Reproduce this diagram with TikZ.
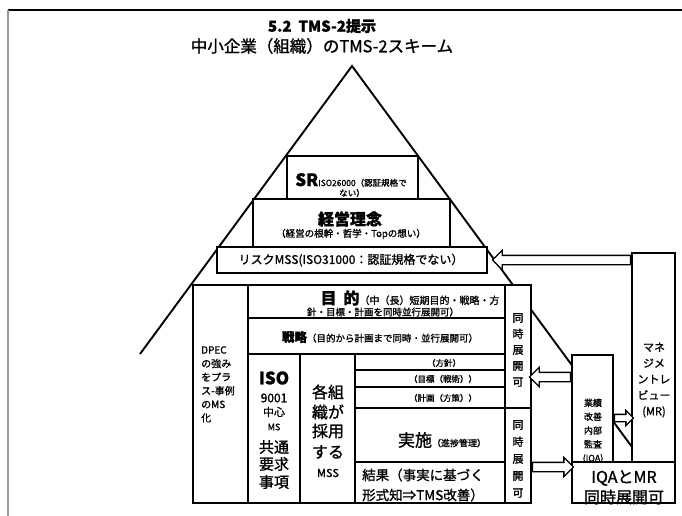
\documentclass[tikz,border=0pt]{standalone}
\usepackage{fontspec}
\setmainfont{Noto Sans CJK JP}
\newfontfamily\med{Noto Sans CJK JP}[FakeBold=1.2]
\usetikzlibrary{shapes.arrows}
\newcommand\fs[1]{\fontsize{#1}{#1}\selectfont}
\tikzset{
  box/.style={draw, line width=1.7pt, fill=white, inner sep=0pt},
  tri/.style={line width=1.9pt},
  txt/.style={inner sep=0pt, align=center, font=\med},
  ltxt/.style={inner sep=0pt, align=left, anchor=west, font=\med},
  harrow/.style={single arrow, draw, line width=1.3pt, fill=white, inner xsep=0pt,
     inner ysep=4pt, single arrow head extend=5pt, single arrow tip angle=90, minimum width=18pt},
  sarrow/.style={harrow, inner ysep=3pt, single arrow head extend=4pt, minimum width=14pt},
}
\begin{document}
\begin{tikzpicture}[x=1pt,y=-1pt]
\useasboundingbox (0,0) rectangle (682,516);
\fill[white] (0,0) rectangle (682,516);
\draw[line width=2.5pt] (8,10) -- (682,10);
\draw[line width=2pt, black!40] (8,10) -- (8,516);

% titles
\node[txt] (t1) at (322,26) {\fs{15}\textbf{5.2\ \ TMS-2提示}};
\node[txt] (t2) at (322,46) {\fs{16.5}中小企業（組織）のTMS-2スキーム};

% pyramid sides
\coordinate (apex) at (352,66);
\coordinate (lend) at (140,354);
\coordinate (rend) at (643,462);
\draw[tri] (lend) -- (apex) -- (rend);

% upper boxes
\node[box, minimum width=131pt, minimum height=43pt] (sr) at (352.5,177.5) {};
\node[box, minimum width=197pt, minimum height=48pt] (rinen) at (351.5,223) {};
\node[box, minimum width=270pt, minimum height=26pt] (risk) at (352,260) {};

\node[txt] (t-sr1) at (351,180) {{\fs{17}\textbf{SR}}{\fs{8.5}ISO26000（認証規格で}};
\node[txt] (t-sr2) at (352,193) {\fs{8.5}ない）};
\node[txt] (t-rinen1) at (350,219) {\fs{16}\textbf{経営理念}};
\node[txt] (t-rinen2) at (351,234) {\fs{9.5}（経営の根幹・哲学・Topの想い）};
\node[txt] (t-risk) at (351,260) {\fs{12}リスクMSS(ISO31000：認証規格でない）};

% main block
\node[box, minimum width=338pt, minimum height=218pt] (main) at (362,394) {};
\node[box, minimum width=55pt, minimum height=218pt] (dpec) at (220.5,394) {};
\node[box, minimum width=257pt, minimum height=33pt] (mokuteki) at (376.5,301.5) {};
\node[box, minimum width=257pt, minimum height=36pt] (senryaku) at (376.5,336) {};
\node[box, minimum width=52pt, minimum height=149pt] (iso) at (274,428.5) {};
\node[box, minimum width=55pt, minimum height=149pt] (kaku) at (327.5,428.5) {};
\node[box, minimum width=150pt, minimum height=16pt] (hoshin) at (430,362) {};
\node[box, minimum width=150pt, minimum height=17pt] (mokuhyo) at (430,378.5) {};
\node[box, minimum width=150pt, minimum height=21pt] (keikaku) at (430,397.5) {};
\node[box, minimum width=150pt, minimum height=54pt] (jisshi) at (430,435) {};
\node[box, minimum width=150pt, minimum height=41pt] (kekka) at (430,482.5) {};
\node[box, minimum width=26pt, minimum height=123pt] (doji1) at (518,346.5) {};
\node[box, minimum width=26pt, minimum height=95pt] (doji2) at (518,455.5) {};

\node[txt, anchor=north west, align=left, font=\med\fontsize{10}{13.6}\selectfont] (t-dpec) at (201,346) {DPEC\\の強み\\をプラ\\ス-事例\\のMS\\化};

\node[txt] (t-mok1) at (410,298) {{\fs{16}\textbf{目\hspace{7pt}的}}{\fs{10}（中（長）短期目的・戦略・方}};
\node[txt] (t-mok2) at (383,312) {\fs{9.5}針・目標・計画を同時並行展開可）};
\node[txt] (t-sen) at (380,337) {{\fs{12.5}\textbf{戦略}}{\fs{9.5}（目的から計画まで同時・並行展開可）}};

\node[txt] (t-iso1) at (274,378) {\fs{17}\textbf{ISO}};
\node[txt] (t-iso2) at (274,398) {\fs{12}9001};
\node[txt] (t-iso3) at (274,412) {\fs{11}中心};
\node[txt] (t-iso4) at (274,427) {\fs{9}MS};
\node[txt] (t-iso5) at (274,447) {\fs{15}共通};
\node[txt] (t-iso6) at (274,464) {\fs{15}要求};
\node[txt] (t-iso7) at (274,482) {\fs{15}事項};

\node[txt] (t-kaku1) at (328,392) {\fs{16}各組};
\node[txt] (t-kaku2) at (328,412) {\fs{16}織が};
\node[txt] (t-kaku3) at (328,431) {\fs{16}採用};
\node[txt] (t-kaku4) at (328,452) {\fs{16}する};
\node[txt] (t-kaku5) at (328,473) {\fs{11}MSS};

\node[txt] (t-hoshin) at (444,363) {\fs{8.5}（方針）};
\node[txt] (t-mokuhyo) at (443,379) {\fs{8.5}（目標（戦術））};
\node[txt] (t-keikaku) at (443,398) {\fs{8.5}（計画（方策））};
\node[txt] (t-jisshi) at (442,440) {{\fs{17}実施}{\fs{9}（進捗管理）}};
\node[ltxt] (t-kekka1) at (362,475) {\fs{13.5}結果（事実に基づく};
\node[ltxt] (t-kekka2) at (362,495) {\fs{13.5}形式知⇒TMS改善）};

\node[txt, font=\med\fontsize{11}{16}\selectfont] (t-doji1) at (518,350) {同\\時\\展\\開\\可};
\node[txt, font=\med\fontsize{11}{17}\selectfont] (t-doji2) at (518,459) {同\\時\\展\\開\\可};

% right side
\node[box, minimum width=43pt, minimum height=209pt] (mr) at (653.5,357.5) {};
\node[box, minimum width=41pt, minimum height=107pt] (iqa) at (592.5,408.5) {};
\node[txt, font=\med\fontsize{11}{16}\selectfont] (t-mr) at (654,380) {マネ\\ジメ\\ントレ\\ビュー\\(MR)};
\node[txt, font=\med\fontsize{9}{13.8}\selectfont] (t-iqa) at (593,431) {業績\\改善\\内部\\監査\\(IQA)};
\node[box, minimum width=103pt, minimum height=41pt] (iqamr) at (623.5,482.5) {};
\node[txt] (t-iqamr1) at (624,478) {\fs{16}IQAとMR};
\node[txt] (t-iqamr2) at (624,497) {\fs{16}同時展開可};

% hollow arrows
\node[harrow, shape border rotate=180, minimum height=138pt, anchor=tail] (a1) at (mr.west |- risk.east) {};
\node[harrow, shape border rotate=180, minimum height=41pt, anchor=tail] (a2) at (iqa.west |- 0,377) {};
\node[sarrow, minimum height=19pt, anchor=tail] (a3) at (iqa.east |- 0,418) {};
\node[harrow, minimum height=41pt, anchor=tail] (a4) at (doji2.east |- 0,467) {};
\end{tikzpicture}
\end{document}
